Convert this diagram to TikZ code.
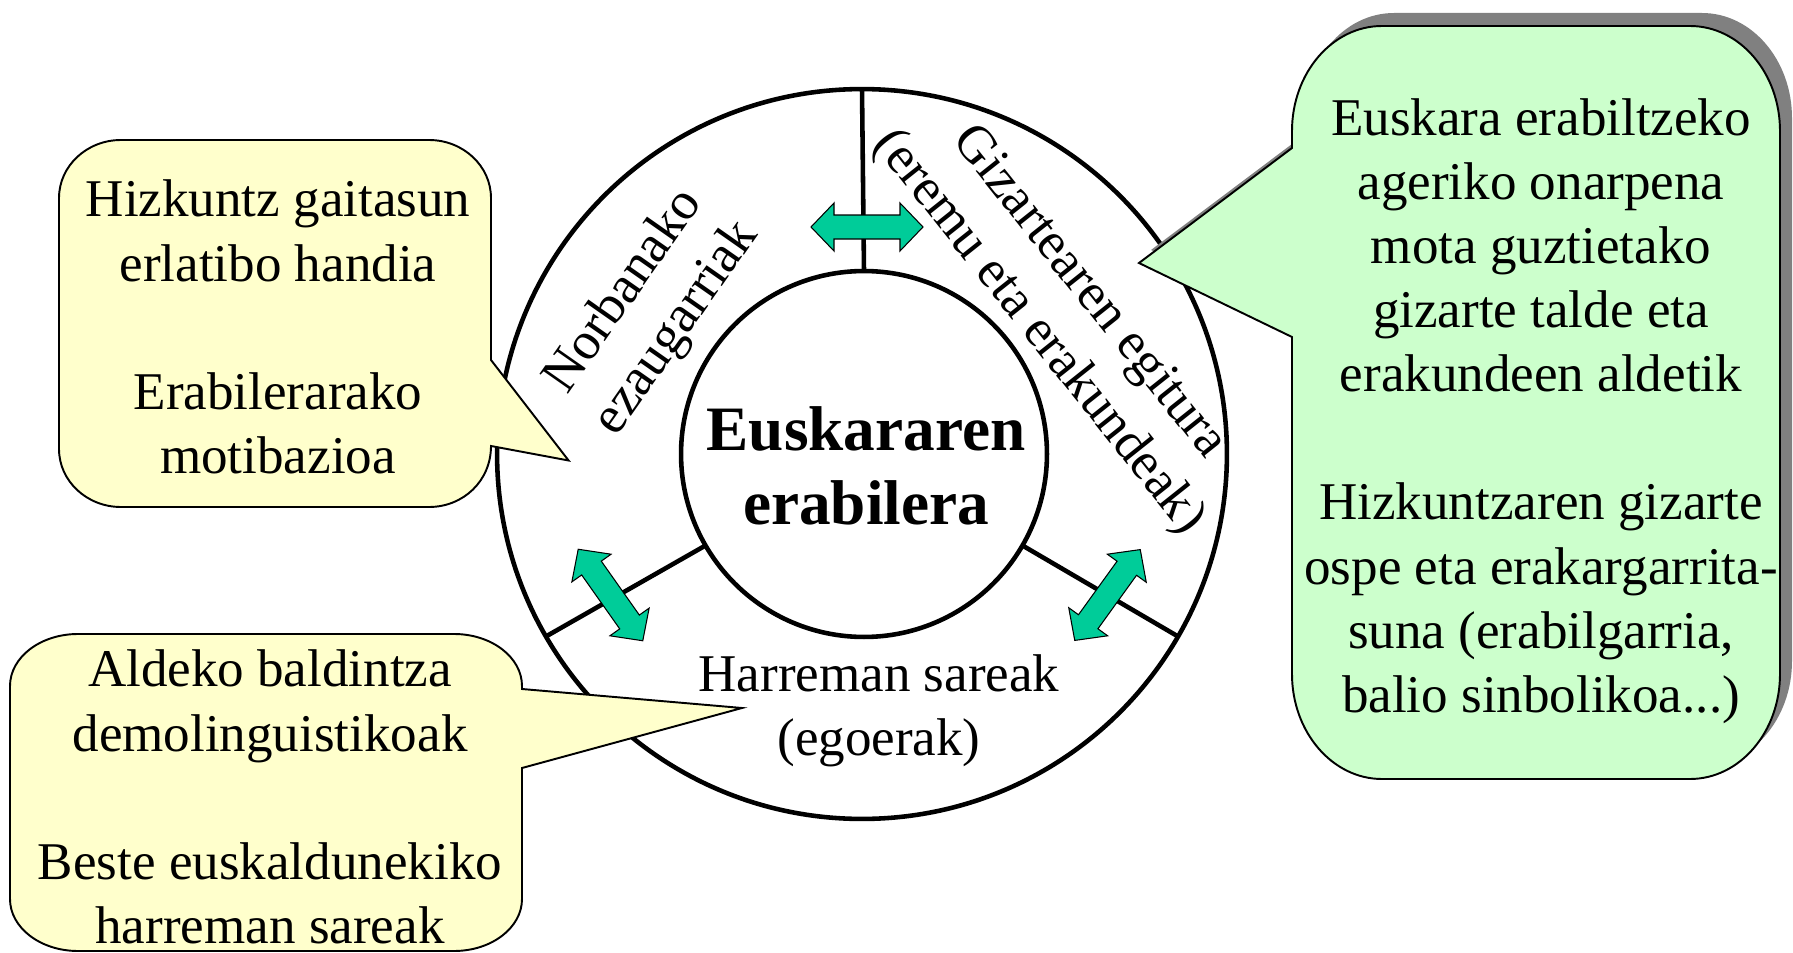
\documentclass[tikz,border=0pt]{standalone}
\usepackage{fontspec}
\setmainfont{Liberation Serif}
\definecolor{calyellow}{HTML}{FFFFCC}
\definecolor{calgreen}{HTML}{CCFFCC}
\definecolor{arrowgreen}{HTML}{00CC99}
\definecolor{shadowgray}{HTML}{808080}
\begin{document}
\begin{tikzpicture}[x=0.02cm,y=-0.02cm,
  txt/.style={font=\fontsize{30.2}{36.5}\selectfont, align=center, inner sep=0pt},
  bigtxt/.style={font=\fontsize{36}{42.4}\selectfont\bfseries, align=center, inner sep=0pt},
  ring/.style={circle, draw, line width=2.6pt, inner sep=0pt, outer sep=0pt},
  divider/.style={line width=2.6pt},
  callout/.style={draw=black, line width=1.1pt, line join=miter},
  dblarrow/.pic={\filldraw[fill=arrowgreen, draw=black, line width=0.6pt, line join=miter]
     (-56,0) -- (-33,-24) -- (-33,-12) -- (33,-12) -- (33,-24) -- (56,0)
     -- (33,24) -- (33,12) -- (-33,12) -- (-33,24) -- cycle;}
]
\useasboundingbox (0,0) rectangle (1793,953);
\fill[white] (0,0) rectangle (1793,953);

% rings
\node[ring, minimum size=14.6cm] (outer) at (862,454) {};
\node[ring, minimum size=7.32cm] (inner) at (864,454) {};
\node[bigtxt] (title) at (866,466) {Euskararen\\erabilera};

% dividers
\draw[divider] (outer.90) -- (inner.90);
\draw[divider] (outer.210) -- (inner.210);
\draw[divider] (outer.330) -- (inner.330);

% double arrows
\pic at (867,227) {dblarrow};
\pic[rotate=-54.8] at (610.5,595) {dblarrow};
\pic[rotate=54.2] at (1107.5,595) {dblarrow};

% ring labels
\node[txt, rotate=55] (norb) at (651,310) {Norbanako\\ezaugarriak};
\node[txt, rotate=-51.5] (giz) at (1063,313) {Gizartearen egitura\\(eremu eta erakundeak)};
\node[txt] (harr) at (879,711) {Harreman sareak\\(egoerak)};

% top-left callout
\filldraw[callout, fill=calyellow]
  (121,140) -- (429,140) .. controls (463.2,140) and (491,166) .. (491,198)
  -- (491,360) -- (568.6,460.5) -- (491,446)
  .. controls (491,481) and (463.2,507) .. (429,507)
  -- (121,507) .. controls (86.8,507) and (59,481) .. (59,449)
  -- (59,198) .. controls (59,166) and (86.8,140) .. (121,140) -- cycle;
\node[txt] (c1) at (278,327) {Hizkuntz gaitasun\\erlatibo handia\\[36.5pt]Erabilerarako\\motibazioa};

% bottom-left callout
\filldraw[callout, fill=calyellow]
  (78,634) -- (454,634) .. controls (491.6,634) and (522,657.3) .. (522,686)
  -- (522,689) -- (742,708) -- (522,768)
  -- (522,899) .. controls (522,927.7) and (491.6,951) .. (454,951)
  -- (78,951) .. controls (40.4,951) and (10,927.7) .. (10,899)
  -- (10,686) .. controls (10,657.3) and (40.4,634) .. (78,634) -- cycle;
\node[txt] (c2) at (270,797) {Aldeko baldintza\\demolinguistikoak\\[36.5pt]Beste euskaldunekiko\\harreman sareak};

% right callout with shadow
\fill[shadowgray, shift={(12,-13)}]
  (1382,26) -- (1690,26) .. controls (1739.7,26) and (1780,73) .. (1780,131)
  -- (1780,674) .. controls (1780,732) and (1739.7,779) .. (1690,779)
  -- (1382,779) .. controls (1332.3,779) and (1292,732) .. (1292,674)
  -- (1292,337) -- (1139,263) -- (1292,148)
  -- (1292,131) .. controls (1292,73) and (1332.3,26) .. (1382,26) -- cycle;
\filldraw[callout, fill=calgreen]
  (1382,26) -- (1690,26) .. controls (1739.7,26) and (1780,73) .. (1780,131)
  -- (1780,674) .. controls (1780,732) and (1739.7,779) .. (1690,779)
  -- (1382,779) .. controls (1332.3,779) and (1292,732) .. (1292,674)
  -- (1292,337) -- (1139,263) -- (1292,148)
  -- (1292,131) .. controls (1292,73) and (1332.3,26) .. (1382,26) -- cycle;
\node[txt] (c3) at (1541,411) {Euskara erabiltzeko\\ageriko onarpena\\mota guztietako\\gizarte talde eta\\erakundeen aldetik\\[36.5pt]Hizkuntzaren gizarte\\ospe eta erakargarrita-\\suna (erabilgarria,\\balio sinbolikoa...)};
\end{tikzpicture}
\end{document}
